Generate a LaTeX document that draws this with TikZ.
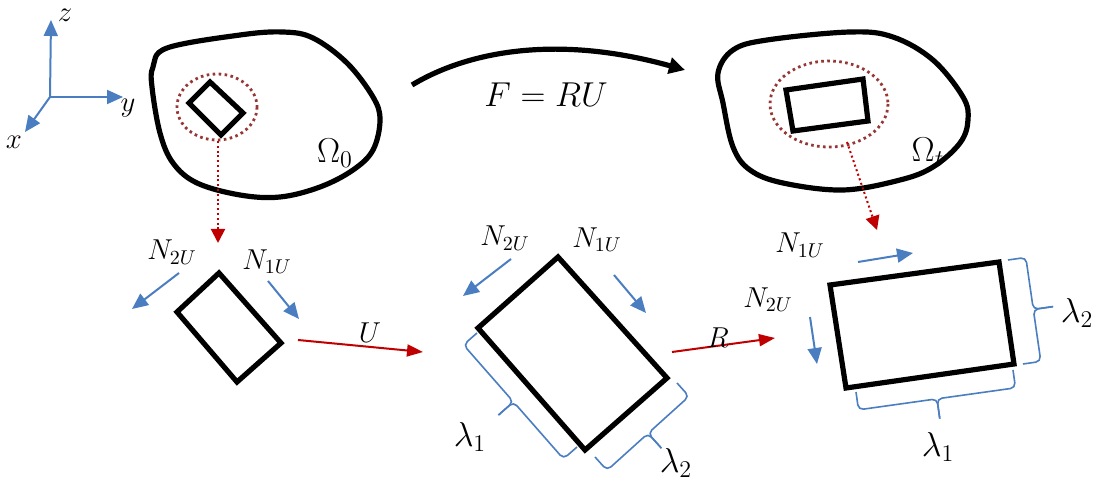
\documentclass[tikz,border=0pt]{standalone}
\usepackage{amsmath}
\usetikzlibrary{arrows.meta,calc}
\definecolor{axisblue}{RGB}{74,126,193}
\definecolor{mapred}{RGB}{192,0,0}
\definecolor{ringred}{RGB}{150,55,53}
% bracket from #1 to #2, bulging to the side given by the angle #3
\newcommand{\lambrack}[3]{%
  \coordinate (lbm) at ($(#1)!0.5!(#2)$);
  \coordinate (lbo) at ($(#1)!9pt!#3:(#2)$);
  \draw[lamline] (#1) -- (lbo) -- ($(lbm)+(lbo)-(#1)$) -- ($(lbm)!19pt!#3:(#2)$);
  \draw[lamline] (#2) -- ($(#2)+(lbo)-(#1)$) -- ($(lbm)+(lbo)-(#1)$) -- ($(lbm)!19pt!#3:(#2)$);
}
\begin{document}
\begin{tikzpicture}[x=0.5pt,y=-0.5pt,
  outline/.style={line width=2.6pt,line join=round},
  cell/.style={line width=2.6pt,line join=miter},
  ring/.style={ringred,line width=1.4pt,dash pattern=on 1.3pt off 1.7pt},
  dirn/.style={axisblue,line width=1pt,-{Triangle[length=8pt,width=7pt]}},
  stretch/.style={mapred,line width=1pt,-{Triangle[length=8pt,width=6pt]}},
  pick/.style={mapred,line width=1pt,dash pattern=on 1pt off 1.4pt,-{Triangle[length=7pt,width=7pt]}},
  lamline/.style={axisblue,line width=0.8pt,rounded corners=2.5pt},
  lbl/.style={font=\fontsize{14}{16}\selectfont,inner sep=1pt},
  lamlbl/.style={font=\fontsize{17}{19}\selectfont,inner sep=1pt}]
\useasboundingbox (0,0) rectangle (1094,481);

% axes
\coordinate (O) at (50,97);
\coordinate (ztip) at (51,20);
\coordinate (ytip) at (123,97);
\coordinate (xtip) at (25,132);
\draw[dirn] (O) -- (ztip);
\draw[dirn] (O) -- (ytip);
\draw[dirn] (O) -- (xtip);
\node[lbl] (zlab) at (65,15) {$z$};
\node[lbl] (ylab) at (128,108) {$y$};
\node[lbl] (xlab) at (14,142) {$x$};

% reference body
\draw[outline] plot[smooth cycle,tension=0.6] coordinates {(153,67) (167,48) (240,35) (283,32) (313,38) (347,63) (373,97) (380,120) (373,150) (353,170) (320,187) (280,197) (240,195) (197,183) (173,163) (160,133) (152,87)};
\node[font=\fontsize{17}{20}\selectfont] (om0) at (335,153) {$\Omega_0$};
\coordinate (P1) at (210,82);
\coordinate (P2) at (243,113);
\coordinate (P3) at (221,135);
\coordinate (P4) at (189,103);
\draw[cell] (P1)--(P2)--(P3)--(P4)--cycle;
\draw[ring] (217,107) ellipse [x radius=40,y radius=33];

% current body
\draw[outline] plot[smooth cycle,tension=0.6] coordinates {(718,73) (733,50) (767,40) (850,32) (893,37) (933,60) (963,97) (968,120) (960,143) (933,167) (900,180) (843,190) (783,183) (750,170) (733,147) (723,103)};
\node[font=\fontsize{17}{20}\selectfont] (omt) at (928,152) {$\Omega_t$};
\coordinate (Q1) at (786,90);
\coordinate (Q2) at (863,79);
\coordinate (Q3) at (868,121);
\coordinate (Q4) at (793,131);
\draw[cell] (Q1)--(Q2)--(Q3)--(Q4)--cycle;
\draw[ring] (829,104) ellipse [x radius=59,y radius=43];

% deformation map
\coordinate (Fs) at (412,85);
\coordinate (Fe) at (685,70);
\draw[outline,-{Triangle[length=8pt,width=8pt]}] (Fs) .. controls (470,50) and (560,35) .. (Fe);
\node[font=\fontsize{19}{22}\selectfont] (Flab) at (546,95) {$F=RU$};

% picked elements
\coordinate (pa) at (218,141);
\coordinate (pb) at (218,243);
\draw[pick] (pa) -- (pb);
\coordinate (pc) at (847,142);
\coordinate (pd) at (877,230);
\draw[pick] (pc) -- (pd);

% element before stretch
\coordinate (A1) at (219,273);
\coordinate (A2) at (281,343);
\coordinate (A3) at (237,382);
\coordinate (A4) at (177,312);
\draw[cell] (A1)--(A2)--(A3)--(A4)--cycle;
\coordinate (a2s) at (179,273);
\coordinate (a2e) at (132,309);
\coordinate (a1s) at (268,281);
\coordinate (a1e) at (299,319);
\draw[dirn] (a2s) -- (a2e);
\draw[dirn] (a1s) -- (a1e);
\node[lbl] (na2) at (172,252) {$N_{2U}$};
\node[lbl] (na1) at (267,262) {$N_{1U}$};
\coordinate (us) at (298,340);
\coordinate (ue) at (423,352);
\draw[stretch] (us) -- (ue);
\node[lbl] (ulab) at (370,333) {$U$};

% stretched element
\coordinate (B1) at (558,257);
\coordinate (B2) at (667,378);
\coordinate (B3) at (585,450);
\coordinate (B4) at (478,328);
\draw[cell] (B1)--(B2)--(B3)--(B4)--cycle;
\coordinate (b2s) at (511,259);
\coordinate (b2e) at (463,296);
\coordinate (b1s) at (614,275);
\coordinate (b1e) at (646,313);
\draw[dirn] (b2s) -- (b2e);
\draw[dirn] (b1s) -- (b1e);
\node[lbl] (nb2) at (505,238) {$N_{2U}$};
\node[lbl] (nb1) at (597,240) {$N_{1U}$};
\coordinate (k1) at (477,333);
\coordinate (k2) at (577,447);
\coordinate (k3) at (677,383);
\coordinate (k4) at (595,457);
\lambrack{k1}{k2}{-90}
\lambrack{k3}{k4}{90}
\node[lamlbl] (lb1) at (470,437) {$\lambda_1$};
\node[lamlbl] (lb2) at (676,463) {$\lambda_2$};
\coordinate (rs) at (672,352);
\coordinate (re) at (775,338);
\draw[stretch] (rs) -- (re);
\node[lbl] (rlab) at (718,338) {$R$};

% rotated element
\coordinate (C1) at (830,285);
\coordinate (C2) at (999,262);
\coordinate (C3) at (1014,364);
\coordinate (C4) at (846,388);
\draw[cell] (C1)--(C2)--(C3)--(C4)--cycle;
\coordinate (c1s) at (858,262);
\coordinate (c1e) at (913,253);
\coordinate (c2s) at (810,317);
\coordinate (c2e) at (817,364);
\draw[dirn] (c1s) -- (c1e);
\draw[dirn] (c2s) -- (c2e);
\node[lbl] (nc1) at (800,245) {$N_{1U}$};
\node[lbl] (nc2) at (768,300) {$N_{2U}$};
\coordinate (m1) at (1008,260);
\coordinate (m2) at (1023,364);
\coordinate (m3) at (1013,370);
\coordinate (m4) at (856,392);
\lambrack{m1}{m2}{90}
\lambrack{m3}{m4}{90}
\node[lamlbl] (lc2) at (1077,313) {$\lambda_2$};
\node[lamlbl] (lc1) at (938,447) {$\lambda_1$};
\end{tikzpicture}
\end{document}
